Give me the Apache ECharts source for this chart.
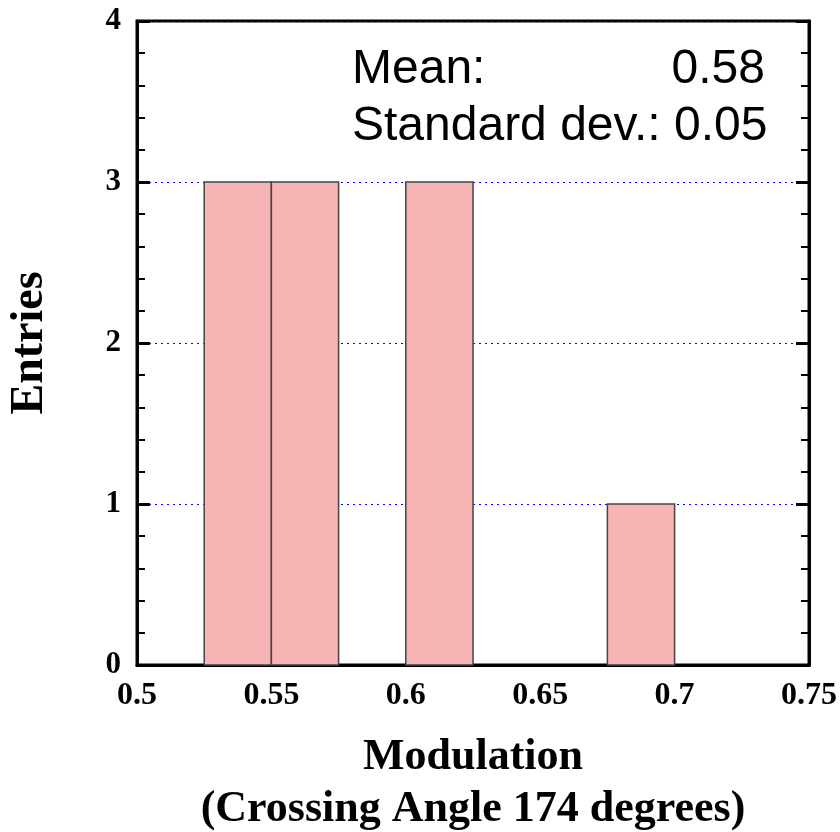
<!DOCTYPE html>
<html>
<head>
<meta charset="utf-8">
<script src="https://cdn.jsdelivr.net/npm/echarts@6/dist/echarts.min.js"></script>
<style>
html,body{margin:0;padding:0;background:#fff;}
#chart{width:840px;height:832px;}
</style>
</head>
<body>
<div id="chart"></div>
<script>
// histogram bins
const binStart = [0.525, 0.55, 0.6, 0.675];
const binEnd = [0.55, 0.575, 0.625, 0.7];
const binCount = [3, 3, 3, 1];

const xTicks = [0.5, 0.55, 0.6, 0.65, 0.7, 0.75];
const statLabels = ["Mean:", "Standard dev.:"];
const statValues = ["0.58", "0.05"];

const serif = "'Liberation Serif', 'Times New Roman', serif";
const sans = "'Liberation Sans', Arial, sans-serif";

const chart = echarts.init(document.getElementById("chart"));

const data = binStart.map((s, i) => [s, binEnd[i], binCount[i]]);

const yAxisCommon = {
    type: "value",
    min: 0,
    max: 4,
    interval: 1,
    axisLine: { show: true, lineStyle: { color: "#000", width: 3 } },
    axisTick: { show: true, inside: true, length: 13, lineStyle: { color: "#000", width: 3 } },
    minorTick: { show: true, splitNumber: 5, length: 8, lineStyle: { color: "#000", width: 2 } }
};

chart.setOption({
    animation: false,
    backgroundColor: "#fff",
    grid: {
        left: 137, top: 21, right: 31, bottom: 167,
        outerBoundsMode: "none",
        containLabel: false,
        show: true, borderColor: "#000", borderWidth: 3
    },
    xAxis: {
        type: "value",
        min: 0.5,
        max: 0.75,
        interval: 0.05,
        axisLine: { show: true, lineStyle: { color: "#000", width: 3 } },
        axisTick: { show: false },
        splitLine: { show: false },
        axisLabel: {
            margin: 15,
            color: "#000",
            fontFamily: serif,
            fontWeight: "bold",
            fontSize: 32,
            formatter: v => {
                const t = xTicks.find(x => Math.abs(x - v) < 1e-9);
                return t === undefined ? "" : String(t);
            }
        },
        name: "Modulation\n(Crossing Angle 174 degrees)",
        nameLocation: "middle",
        nameGap: 67,
        nameTextStyle: {
            color: "#000",
            fontFamily: serif,
            fontWeight: "bold",
            fontSize: 44,
            lineHeight: 52,
            verticalAlign: "top"
        }
    },
    yAxis: [
        Object.assign({}, yAxisCommon, {
            position: "left",
            axisLabel: {
                margin: 16,
                color: "#000",
                fontFamily: serif,
                fontWeight: "bold",
                fontSize: 31
            },
            splitLine: { show: true, lineStyle: { color: "#0000ff", width: 1, type: [2, 4] } },
            name: "Entries",
            nameLocation: "middle",
            nameGap: 84,
            nameTextStyle: {
                color: "#000",
                fontFamily: serif,
                fontWeight: "bold",
                fontSize: 46
            }
        }),
        Object.assign({}, yAxisCommon, {
            position: "right",
            axisLabel: { show: false },
            splitLine: { show: false }
        })
    ],
    graphic: [
        {
            type: "text", x: 352, y: 70,
            style: { text: statLabels[0], font: "48px " + sans, fill: "#000", verticalAlign: "middle" }
        },
        {
            type: "text", x: 765, y: 70,
            style: { text: statValues[0], font: "48px " + sans, fill: "#000", align: "right", verticalAlign: "middle" }
        },
        {
            type: "text", x: 352, y: 127,
            style: { text: statLabels[1] + " " + statValues[1], font: "48px " + sans, fill: "#000", verticalAlign: "middle" }
        }
    ],
    series: [{
        type: "custom",
        data: data,
        encode: { x: [0, 1], y: 2 },
        renderItem: (params, api) => {
            const p0 = api.coord([api.value(0), api.value(2)]);
            const p1 = api.coord([api.value(1), 0]);
            return {
                type: "rect",
                shape: { x: p0[0], y: p0[1], width: p1[0] - p0[0], height: p1[1] - p0[1] },
                style: { fill: "#f6b4b4", stroke: "#444", lineWidth: 1.5 }
            };
        }
    }]
});
</script>
</body>
</html>
